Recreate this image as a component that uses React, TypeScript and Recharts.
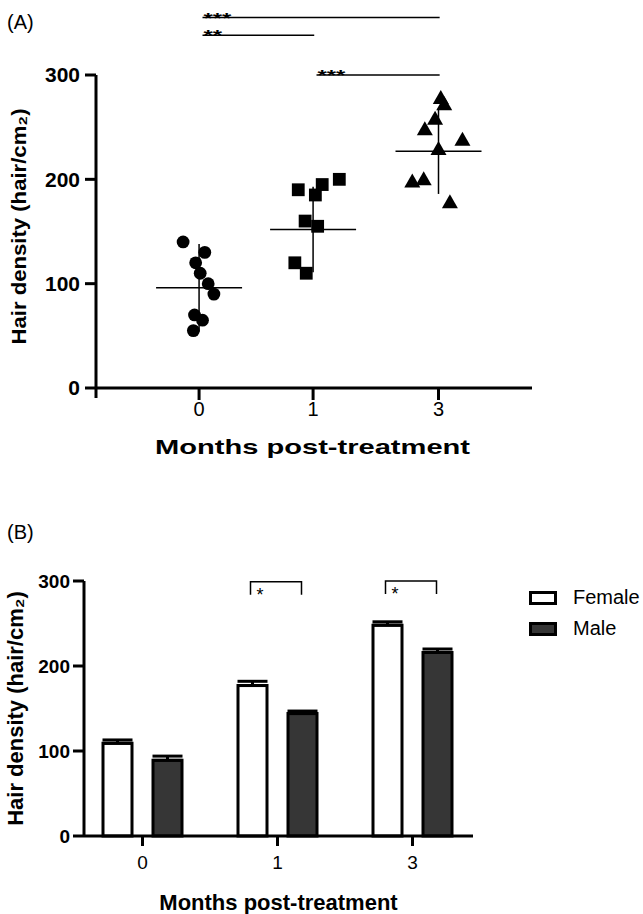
import React from "react";
import {
  ScatterChart,
  Scatter,
  XAxis,
  YAxis,
  ErrorBar,
  ReferenceLine,
  ComposedChart,
  Bar,
  Line,
  Legend,
} from "recharts";

const FONT = "'Liberation Sans', Arial, Helvetica, sans-serif";

// ---- panel A: individual points ----
const monthLabels = ["0", "1", "3"];
const monthPos = [0, 1, 2.1];
const xDomainA: [number, number] = [-0.904, 2.92];

const circleVals = [140, 130, 120, 110, 100, 90, 70, 65, 55];
const circleJitter = [-0.14, 0.05, -0.03, 0.01, 0.08, 0.13, -0.04, 0.03, -0.05];
const squareVals = [190, 195, 200, 185, 160, 155, 120, 110];
const squareJitter = [-0.13, 0.08, 0.23, 0.02, -0.07, 0.04, -0.16, -0.06];
const triangleVals = [278, 272, 258, 248, 238, 229, 200, 198, 178];
const triangleJitter = [0.02, 0.05, -0.03, -0.12, 0.21, 0, -0.13, -0.23, 0.1];
const groupMeans = [96, 152, 227];
const groupSd = [42, 41, 41];

const sigLinesA = [
  { from: 0, to: 2, level: 355, text: "***" },
  { from: 0, to: 1, level: 338, text: "**" },
  { from: 1, to: 2, level: 300, text: "***" },
];

// ---- panel B: female vs male ----
const female = [109, 177, 248];
const femaleErr = [4, 5, 4];
const male = [89, 144, 216];
const maleErr = [5, 3, 4];
const sigB = [null, 299, 300];

const circles = circleVals.map((v, i) => ({ x: monthPos[0] + circleJitter[i], y: v }));
const squares = squareVals.map((v, i) => ({ x: monthPos[1] + squareJitter[i], y: v }));
const triangles = triangleVals.map((v, i) => ({ x: monthPos[2] + triangleJitter[i], y: v }));
const meanData = groupMeans.map((m, i) => ({ x: monthPos[i], y: m, err: groupSd[i] }));

const barData = monthLabels.map((m, i) => ({
  month: m,
  female: female[i],
  male: male[i],
  fErr: [0, femaleErr[i]],
  mErr: [0, maleErr[i]],
  sig: sigB[i],
}));

const axisStyle = { stroke: "#000", strokeWidth: 3 };

const CircleMark = (p: any) => <circle cx={p.cx} cy={p.cy} r={6.4} fill="#000" />;
const SquareMark = (p: any) => (
  <rect x={p.cx - 6.4} y={p.cy - 6.4} width={12.8} height={12.8} fill="#000" />
);
const TriangleMark = (p: any) => (
  <polygon
    points={`${p.cx},${p.cy - 8} ${p.cx - 8},${p.cy + 6} ${p.cx + 8},${p.cy + 6}`}
    fill="#000"
  />
);
const MeanMark = (p: any) => (
  <line x1={p.cx - 43} x2={p.cx + 43} y1={p.cy} y2={p.cy} stroke="#000" strokeWidth={1.5} />
);

// asterisks sit right on top of the comparison line
const starLabel = (text: string) => (props: any) => {
  const vb = props.viewBox || {};
  return (
    <text
      x={vb.x + 1}
      y={vb.y + 5}
      fontFamily={FONT}
      fontWeight="bold"
      fontSize={15}
      fill="#000"
      textLength={text.length * 9.3}
      lengthAdjust="spacingAndGlyphs"
    >
      {text}
    </text>
  );
};

const Bracket = (p: any) => {
  if (p.cy == null || p.value == null || isNaN(p.cy)) return null;
  const l = p.cx - 27;
  const r = p.cx + 24;
  return (
    <g>
      <path
        d={`M${l},${p.cy + 13} V${p.cy} H${r} V${p.cy + 13}`}
        fill="none"
        stroke="#000"
        strokeWidth={1.5}
      />
      <text x={l + 6} y={p.cy + 19} fontFamily={FONT} fontSize={18} fill="#000">
        *
      </text>
    </g>
  );
};

const yTitle = (text: string, dx: number, dy: number, size: number, len?: number) => (props: any) => {
  const vb = props.viewBox;
  const cx = vb.x + dx;
  const cy = vb.y + vb.height / 2 + dy;
  return (
    <text
      x={cx}
      y={cy}
      transform={`rotate(-90, ${cx}, ${cy})`}
      textAnchor="middle"
      dominantBaseline="central"
      fontFamily={FONT}
      fontWeight="bold"
      fontSize={size}
      fill="#000"
      textLength={len}
      lengthAdjust="spacingAndGlyphs"
    >
      {text}
    </text>
  );
};

const xTitle = (text: string, dx: number, dy: number, size: number, len?: number) => (props: any) => {
  const vb = props.viewBox;
  return (
    <text
      x={vb.x + vb.width / 2 + dx}
      y={vb.y + dy}
      textAnchor="middle"
      dominantBaseline="central"
      fontFamily={FONT}
      fontWeight="bold"
      fontSize={size}
      fill="#000"
      textLength={len}
      lengthAdjust="spacingAndGlyphs"
    >
      {text}
    </text>
  );
};

const LegendBox = (props: any) => (
  <div style={{ fontFamily: FONT, fontSize: 20, color: "#000" }}>
    {(props.payload || [])
      .filter((entry: any) => entry.dataKey !== "sig")
      .map((entry: any) => (
        <div key={entry.value} style={{ display: "flex", alignItems: "center", height: 31 }}>
          <svg width={28} height={14}>
            <rect x={1.5} y={1.5} width={25} height={11} fill={entry.color} stroke="#000" strokeWidth={3} />
          </svg>
          <span style={{ marginLeft: 16 }}>{entry.value}</span>
        </div>
      ))}
  </div>
);

const panelLabel: React.CSSProperties = {
  position: "absolute",
  left: 7,
  fontFamily: FONT,
  fontSize: 20,
  lineHeight: "20px",
  color: "#000",
};

export default function App() {
  return (
    <div style={{ position: "absolute", left: 0, top: 0, width: 643, height: 914, background: "#fff" }}>
      <div style={{ ...panelLabel, top: 12 }}>(A)</div>
      <div style={{ ...panelLabel, top: 522 }}>(B)</div>

      <div style={{ position: "absolute", left: 0, top: 0 }}>
        <ScatterChart width={643} height={470} margin={{ top: 75, right: 111, bottom: 32, left: 20 }}>
          <XAxis
            type="number"
            dataKey="x"
            domain={xDomainA}
            ticks={monthPos}
            tickFormatter={(v: number) => monthLabels[monthPos.indexOf(v)] ?? ""}
            allowDataOverflow
            height={50}
            axisLine={axisStyle}
            tickLine={axisStyle}
            tickSize={12}
            tickMargin={2}
            tick={{ fill: "#000", fontSize: 20, fontFamily: FONT }}
            label={xTitle("Months post-treatment", -1.5, 58, 21, 315)}
          />
          <YAxis
            type="number"
            dataKey="y"
            domain={[0, 300]}
            ticks={[0, 100, 200, 300]}
            width={76}
            axisLine={axisStyle}
            tickLine={axisStyle}
            tickSize={11}
            tickMargin={5}
            tick={{ fill: "#000", fontSize: 21, fontFamily: FONT, fontWeight: "bold" }}
            label={yTitle("Hair density (hair/cm₂)", -2, -5, 21, 236)}
          />
          <ReferenceLine
            segment={[
              { x: xDomainA[0], y: 0 },
              { x: xDomainA[0], y: -9.6 },
            ]}
            stroke="#000"
            strokeWidth={3}
            ifOverflow="visible"
          />
          {sigLinesA.map((s) => (
            <ReferenceLine
              key={s.text + s.level}
              segment={[
                { x: monthPos[s.from] + 0.03, y: s.level },
                { x: monthPos[s.to] + 0.01, y: s.level },
              ]}
              stroke="#000"
              strokeWidth={1.5}
              ifOverflow="visible"
              label={starLabel(s.text)}
            />
          ))}
          <Scatter data={circles} shape={CircleMark} isAnimationActive={false} />
          <Scatter data={squares} shape={SquareMark} isAnimationActive={false} />
          <Scatter data={triangles} shape={TriangleMark} isAnimationActive={false} />
          <Scatter data={meanData} shape={MeanMark} isAnimationActive={false}>
            <ErrorBar dataKey="err" direction="y" width={0} stroke="#000" strokeWidth={1.5} />
          </Scatter>
        </ScatterChart>
      </div>

      <div style={{ position: "absolute", left: 0, top: 500 }}>
        <ComposedChart
          width={643}
          height={414}
          data={barData}
          margin={{ top: 81, right: 170, bottom: 38, left: 10 }}
          barSize={29}
          barGap={21}
        >
          <XAxis
            dataKey="month"
            type="category"
            padding={{ left: -9, right: -7 }}
            height={40}
            axisLine={axisStyle}
            tickLine={axisStyle}
            tickSize={10}
            tickMargin={10}
            tick={{ fill: "#000", fontSize: 19, fontFamily: FONT }}
            label={xTitle("Months post-treatment", 0, 66, 22)}
          />
          <YAxis
            domain={[0, 300]}
            ticks={[0, 100, 200, 300]}
            width={74}
            axisLine={axisStyle}
            tickLine={axisStyle}
            tickSize={11}
            tickMargin={3}
            tick={{ fill: "#000", fontSize: 19, fontFamily: FONT, fontWeight: "bold" }}
            label={yTitle("Hair density (hair/cm₂)", 5, 0, 22)}
          />
          <Legend
            layout="vertical"
            align="center"
            verticalAlign="middle"
            content={LegendBox}
            wrapperStyle={{ left: 529, top: 82, width: 120, height: "auto" }}
          />
          <Bar dataKey="female" name="Female" fill="#ffffff" stroke="#000" strokeWidth={3} isAnimationActive={false}>
            <ErrorBar dataKey="fErr" direction="y" width={15} stroke="#000" strokeWidth={3} />
          </Bar>
          <Bar dataKey="male" name="Male" fill="#363636" stroke="#000" strokeWidth={3} isAnimationActive={false}>
            <ErrorBar dataKey="mErr" direction="y" width={15} stroke="#000" strokeWidth={3} />
          </Bar>
          <Line
            dataKey="sig"
            stroke="none"
            dot={Bracket}
            activeDot={false}
            legendType="none"
            isAnimationActive={false}
          />
        </ComposedChart>
      </div>
    </div>
  );
}
